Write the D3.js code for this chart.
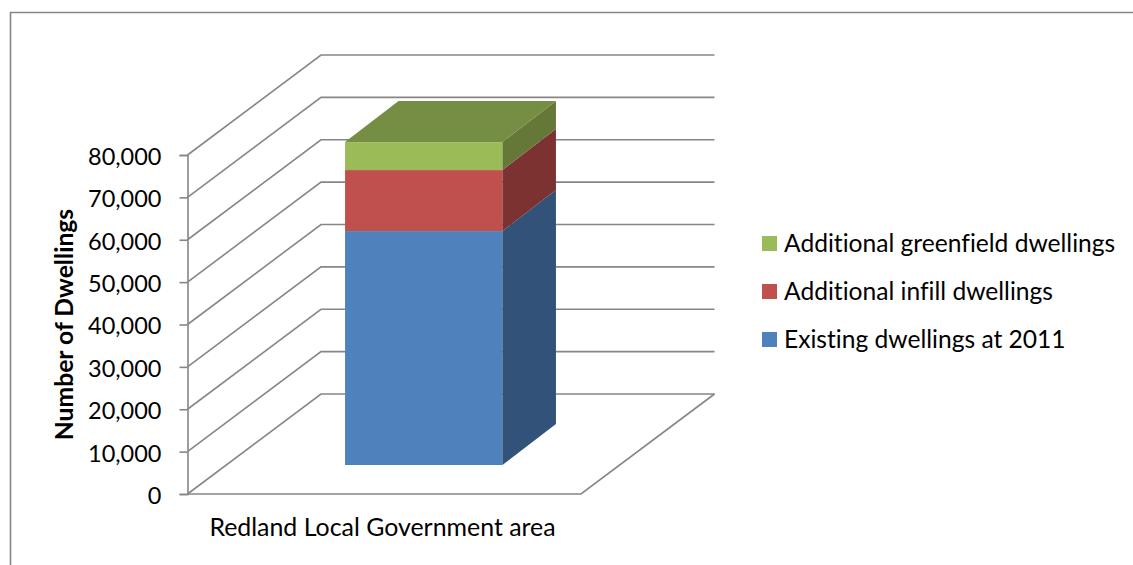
<!DOCTYPE html>
<html><head><meta charset="utf-8">
<script src="https://cdn.jsdelivr.net/npm/d3@7"></script>
<style>html,body{margin:0;padding:0;background:#fff}svg{display:block}text{font-family:Lato,"Open Sans",sans-serif;fill:#000;font-variant-ligatures:none}</style>
</head><body><svg id="c" width="1133" height="565"></svg>
<script>
const categories = ["Redland Local Government area"];
const seriesNames = ["Existing dwellings at 2011","Additional infill dwellings","Additional greenfield dwellings"];
const seriesValues = [55200,14400,6600];
const frontColors = ["#4F81BD","#C0504D","#9BBB59"];
const sideColors = ["#325279","#7B3230","#657837"];
const topColor = "#768E43";
const yTicks = [0,10000,20000,30000,40000,50000,60000,70000,80000];
const yTitle = "Number of Dwellings";

const svg = d3.select("#c");
const y = d3.scaleLinear().domain([0,80000]).range([494,155]);
const x = d3.scaleBand().domain(categories).range([187.5,581]).paddingInner(0).paddingOuter(0.75);
const wall = {dx:133.5,dy:-100}, barDepth = {dx:53.5,dy:-41}, barInset = {dx:39.5,dy:-29}, gridColor = "#868686";

// frame
svg.append("path").attr("d","M10.5,565V12.5H1133").attr("fill","none").attr("stroke",gridColor).attr("stroke-width",1.6);

// walls and gridlines
const line = d3.line();
const x0 = x.range()[0], x1 = x.range()[1];
const grid = svg.append("g").attr("fill","none").attr("stroke",gridColor).attr("stroke-width",1.6);
yTicks.forEach(t=>{
  const p = y(t);
  grid.append("path").attr("d",line([[x0,p],[x0+wall.dx,p+wall.dy],[x1+wall.dx,p+wall.dy]]));
});
grid.append("path").attr("d",line([[x0,y(0)],[x1,y(0)],[x1+wall.dx,y(0)+wall.dy]]));

// y axis
const ax = svg.append("g").attr("transform",`translate(${x0},0)`)
  .call(d3.axisLeft(y).tickValues(yTicks).tickFormat(d3.format(",")).tickSize(8).tickPadding(18));
ax.selectAll("path,line").attr("stroke",gridColor).attr("stroke-width",1.6);
ax.selectAll("text").attr("font-size",23.5).attr("fill","#000").attr("dy","0.4em");

// stacked 3D bar
const barWidth = x.bandwidth();
const bx0 = x(categories[0]) + barInset.dx, bx1 = bx0 + barWidth;
const stacked = d3.cumsum(seriesValues);
const gb = svg.append("g");
seriesValues.forEach((v,i)=>{
  const lo = (i?stacked[i-1]:0), hi = stacked[i];
  const yLo = y(lo)+barInset.dy, yHi = y(hi)+barInset.dy;
  gb.append("rect").attr("x",bx0).attr("y",yHi).attr("width",barWidth).attr("height",yLo-yHi).attr("fill",frontColors[i]);
  gb.append("path").attr("fill",sideColors[i]).attr("d",line([[bx1,yLo],[bx1+barDepth.dx,yLo+barDepth.dy],[bx1+barDepth.dx,yHi+barDepth.dy],[bx1,yHi]])+"Z");
  if(i===seriesValues.length-1){
    gb.append("path").attr("fill",topColor).attr("d",line([[bx0,yHi],[bx0+barDepth.dx,yHi+barDepth.dy],[bx1+barDepth.dx,yHi+barDepth.dy],[bx1,yHi]])+"Z");
  }
});

// labels
svg.append("text").attr("x",382.5).attr("y",536).attr("text-anchor","middle").attr("font-size",24.9).text(categories[0]);
svg.append("text").attr("transform","translate(72.5,324.5) rotate(-90)").attr("text-anchor","middle").attr("font-size",24.7).attr("font-weight",700).text(yTitle);

// legend
const legY = d3.scalePoint().domain(d3.range(3)).range([339.5,243.5]);
const lg = svg.append("g");
seriesNames.forEach((n,i)=>{
  lg.append("rect").attr("x",762).attr("y",legY(i)-7.5).attr("width",15).attr("height",15).attr("fill",frontColors[i]);
  lg.append("text").attr("x",784).attr("y",legY(i)+8.5).attr("font-size",24.6).text(n);
});
</script></body></html>
